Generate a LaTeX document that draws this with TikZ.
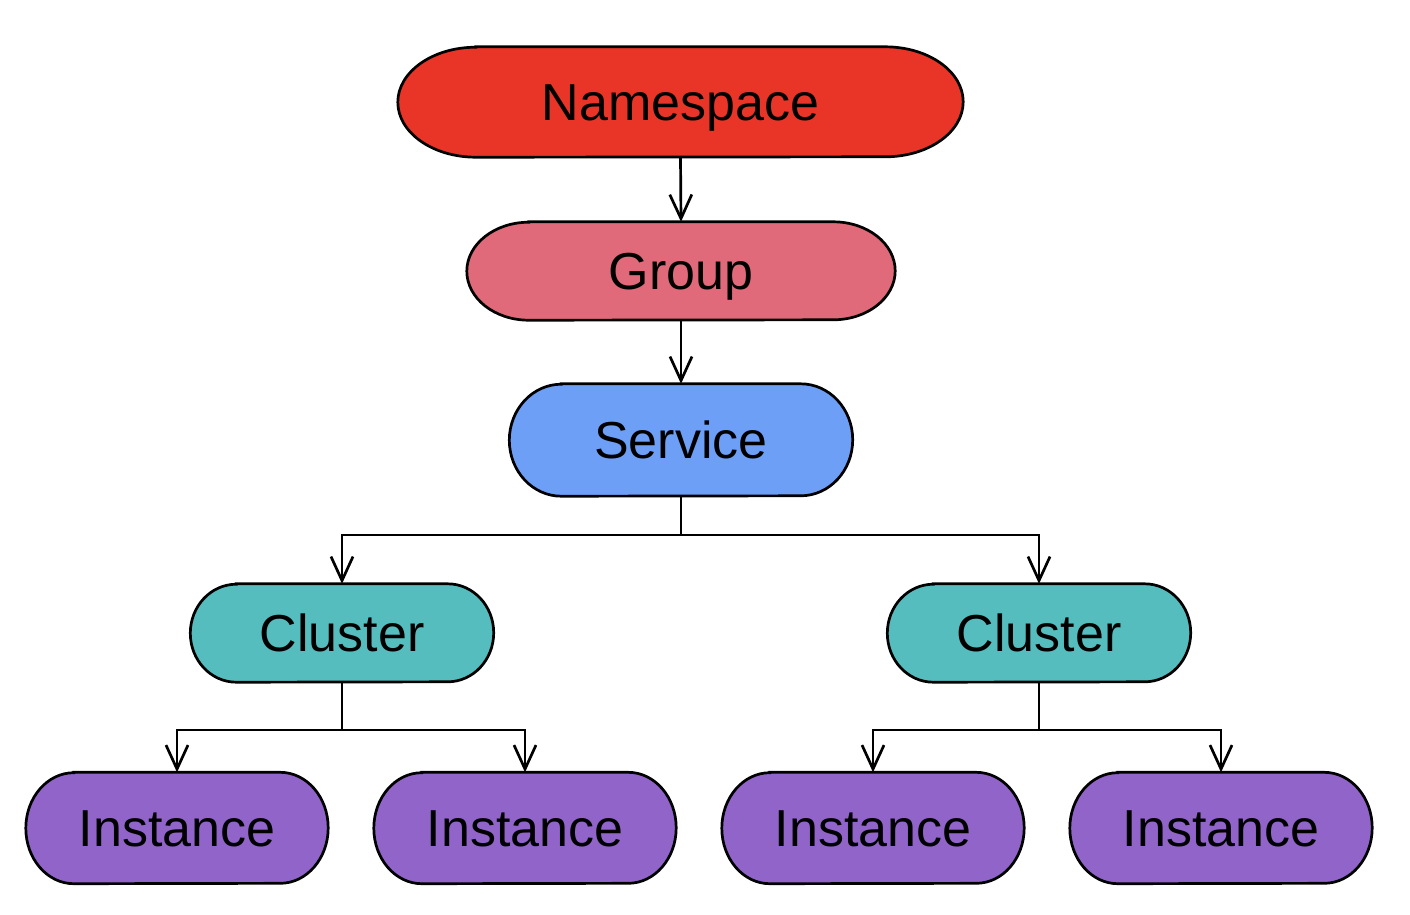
\documentclass[tikz,border=0pt]{standalone}
\usepackage{fontspec}
\setmainfont{Liberation Sans}
\usetikzlibrary{arrows.meta,calc,backgrounds}
\definecolor{nsred}{RGB}{233,53,40}
\definecolor{grppink}{RGB}{224,106,122}
\definecolor{svcblue}{RGB}{110,159,247}
\definecolor{clteal}{RGB}{86,189,191}
\definecolor{inpurple}{RGB}{145,100,202}
\tikzset{
  box/.style={draw=none, inner sep=0pt, text height=37pt, text depth=0pt, font=\fontsize{52}{60}\selectfont},
  conn/.style={line width=2.7pt, -{Straight Barb[length=24pt,width=22pt,line width=2.7pt]}},
  plain/.style={line width=2.7pt},
  pill/.style={line width=2.7pt, draw=black}
}
\begin{document}
\begin{tikzpicture}[x=1pt,y=-1pt]
\useasboundingbox (0,0) rectangle (1410,914);
\node[box, minimum width=565pt, minimum height=110pt] (ns) at (680.5,102) {Namespace};
\node[box, minimum width=428pt, minimum height=98pt] (grp) at (681,271) {Group};
\node[box, minimum width=343pt, minimum height=112pt] (svc) at (681,440) {Service};
\node[box, minimum width=303pt, minimum height=98pt] (cl1) at (342,633) {Cluster};
\node[box, minimum width=303pt, minimum height=98pt] (cl2) at (1039,633) {Cluster};
\node[box, minimum width=302pt, minimum height=111pt] (in1) at (177,828) {Instance};
\node[box, minimum width=302pt, minimum height=111pt] (in2) at (525,828) {Instance};
\node[box, minimum width=302pt, minimum height=111pt] (in3) at (873,828) {Instance};
\node[box, minimum width=302pt, minimum height=111pt] (in4) at (1221,828) {Instance};
\begin{pgfonlayer}{background}
\foreach \n/\rx/\ry/\c in {ns/78/55/nsred, grp/62/49/grppink, svc/52/56/svcblue,
    cl1/46/49/clteal, cl2/46/49/clteal, in1/48/55.5/inpurple, in2/48/55.5/inpurple,
    in3/48/55.5/inpurple, in4/48/55.5/inpurple}{
  \draw[pill, fill=\c] ($(\n.north west)+(\rx pt,0pt)$) -- ($(\n.north east)+(-\rx pt,0pt)$)
    arc[start angle=90, end angle=-90, x radius=\rx pt, y radius=\ry pt]
    -- ($(\n.south west)+(\rx pt,0pt)$)
    arc[start angle=270, end angle=90, x radius=\rx pt, y radius=\ry pt] -- cycle;
}
\end{pgfonlayer}
\coordinate (j0) at (681,535);
\coordinate (j1) at (342,730);
\coordinate (j2) at (1039,730);
\draw[conn] (ns.south) -- (grp.north);
\draw[conn] (grp.south) -- (svc.north);
\draw[plain] (svc.south) -- (j0);
\draw[conn] (j0) -| (cl1.north);
\draw[conn] (j0) -| (cl2.north);
\draw[plain] (cl1.south) -- (j1);
\draw[conn] (j1) -| (in1.north);
\draw[conn] (j1) -| (in2.north);
\draw[plain] (cl2.south) -- (j2);
\draw[conn] (j2) -| (in3.north);
\draw[conn] (j2) -| (in4.north);
\end{tikzpicture}
\end{document}
